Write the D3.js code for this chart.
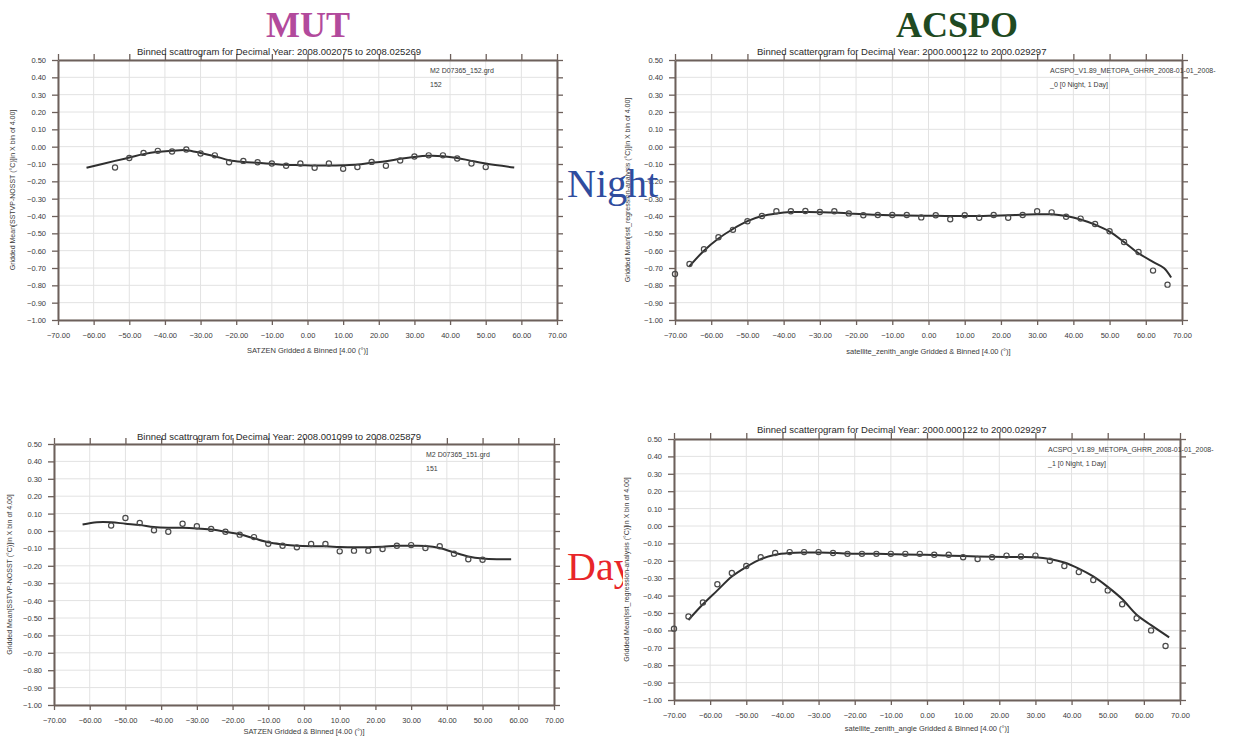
<!DOCTYPE html>
<html><head><meta charset="utf-8">
<script src="https://cdn.jsdelivr.net/npm/d3@7"></script>
<style>body{margin:0;background:#fff;}svg{display:block;}</style>
</head><body>
<svg id="c" width="1257" height="738"></svg>
<script>
// ---------- data ----------
const xTicks = [-70,-60,-50,-40,-30,-20,-10,0,10,20,30,40,50,60,70];
const yTicks = [0.5,0.4,0.3,0.2,0.1,0.0,-0.1,-0.2,-0.3,-0.4,-0.5,-0.6,-0.7,-0.8,-0.9,-1.0];

const mutNightX = [-54,-50,-46,-42,-38,-34,-30,-26,-22,-18,-14,-10,-6,-2,2,6,10,14,18,22,26,30,34,38,42,46,50];
const mutNightY = [-0.12,-0.065,-0.036,-0.024,-0.028,-0.016,-0.039,-0.05,-0.09,-0.082,-0.09,-0.097,-0.11,-0.097,-0.122,-0.097,-0.128,-0.118,-0.088,-0.11,-0.08,-0.057,-0.05,-0.05,-0.068,-0.097,-0.118];
const mutNightFitX = [-62,-54,-50,-46,-42,-38,-34,-30,-26,-22,-18,-14,-10,-6,-2,2,6,10,14,18,22,26,30,34,38,42,46,50,58];
const mutNightFitY = [-0.122,-0.082,-0.063,-0.043,-0.030,-0.024,-0.020,-0.036,-0.055,-0.078,-0.088,-0.093,-0.099,-0.105,-0.107,-0.109,-0.109,-0.107,-0.103,-0.093,-0.084,-0.070,-0.059,-0.053,-0.055,-0.065,-0.082,-0.097,-0.12];

const mutDayX = [-54,-50,-46,-42,-38,-34,-30,-26,-22,-18,-14,-10,-6,-2,2,6,10,14,18,22,26,30,34,38,42,46,50];
const mutDayY = [0.031,0.075,0.046,0.004,-0.004,0.042,0.027,0.012,-0.004,-0.021,-0.035,-0.073,-0.085,-0.094,-0.075,-0.075,-0.117,-0.113,-0.113,-0.104,-0.085,-0.081,-0.098,-0.088,-0.131,-0.162,-0.165];
const mutDayFitX = [-62,-58,-54,-50,-46,-42,-38,-34,-30,-26,-22,-18,-14,-10,-6,-2,2,6,10,14,18,22,26,30,34,38,42,46,50,54,58];
const mutDayFitY = [0.037,0.05,0.05,0.042,0.035,0.023,0.019,0.019,0.015,0.008,-0.004,-0.019,-0.042,-0.065,-0.077,-0.085,-0.088,-0.088,-0.092,-0.093,-0.093,-0.090,-0.085,-0.085,-0.086,-0.098,-0.123,-0.146,-0.158,-0.162,-0.162];

const acspoNightX = [-70,-66,-62,-58,-54,-50,-46,-42,-38,-34,-30,-26,-22,-18,-14,-10,-6,-2,2,6,10,14,18,22,26,30,34,38,42,46,50,54,58,62,66];
const acspoNightY = [-0.735,-0.677,-0.592,-0.523,-0.48,-0.43,-0.40,-0.373,-0.373,-0.371,-0.377,-0.373,-0.385,-0.396,-0.394,-0.394,-0.394,-0.408,-0.396,-0.419,-0.396,-0.41,-0.394,-0.41,-0.394,-0.373,-0.379,-0.404,-0.415,-0.446,-0.488,-0.55,-0.608,-0.715,-0.796];
const acspoNightFitX = [-66,-62,-58,-54,-50,-46,-42,-38,-34,-30,-26,-22,-18,-14,-10,-6,-2,2,6,10,14,18,22,26,30,34,38,42,46,50,54,58,62,65,67];
const acspoNightFitY = [-0.69,-0.60,-0.53,-0.475,-0.43,-0.40,-0.385,-0.377,-0.377,-0.378,-0.380,-0.385,-0.39,-0.393,-0.395,-0.397,-0.398,-0.399,-0.40,-0.40,-0.40,-0.398,-0.396,-0.393,-0.39,-0.39,-0.40,-0.42,-0.45,-0.49,-0.55,-0.615,-0.665,-0.70,-0.755];

const acspoDayX = [-70,-66,-62,-58,-54,-50,-46,-42,-38,-34,-30,-26,-22,-18,-14,-10,-6,-2,2,6,10,14,18,22,26,30,34,38,42,46,50,54,58,62,66];
const acspoDayY = [-0.59,-0.52,-0.44,-0.335,-0.27,-0.23,-0.18,-0.155,-0.15,-0.15,-0.15,-0.155,-0.16,-0.16,-0.16,-0.16,-0.16,-0.16,-0.165,-0.165,-0.18,-0.19,-0.18,-0.17,-0.175,-0.17,-0.2,-0.23,-0.265,-0.31,-0.37,-0.45,-0.53,-0.60,-0.69];
const acspoDayFitX = [-66,-62,-58,-54,-50,-46,-42,-38,-34,-30,-26,-22,-18,-14,-10,-6,-2,2,6,10,14,18,22,26,30,34,38,42,46,50,54,58,62,67];
const acspoDayFitY = [-0.54,-0.45,-0.37,-0.29,-0.235,-0.19,-0.165,-0.155,-0.152,-0.152,-0.155,-0.158,-0.16,-0.16,-0.162,-0.164,-0.165,-0.167,-0.17,-0.172,-0.175,-0.177,-0.178,-0.178,-0.18,-0.19,-0.21,-0.245,-0.29,-0.35,-0.42,-0.51,-0.57,-0.64];

// ---------- layout ----------
const svg = d3.select("#c");
const FONT = "Liberation Sans, Arial, sans-serif";
const AX = "#6d605b", GRID = "#e2e2e2", TXT = "#3a3a3a";

const panels = [
  {id:"tl", l:58, r:557, t:60, b:320, bg:null,
   title:"Binned scattrogram for Decimal Year: 2008.002075  to  2008.025269", tx:137, ty:55,
   ann1:"M2 D07365_152.grd", ann2:"152", ax:430,
   xTitle:"SATZEN Gridded & Binned [4.00 (°)]", xlY:340, xtY:353,
   yTitle:"Gridded Mean[SSTVP-NOSST (°C)]in X bin of 4.00]", ytX:13,
   px:mutNightX, py:mutNightY, fx:mutNightFitX, fy:mutNightFitY},
  {id:"tr", l:675, r:1182, t:60, b:320, bg:null,
   title:"Binned scatterogram for Decimal Year: 2000.000122  to  2000.029297", tx:757, ty:55,
   ann1:"ACSPO_V1.89_METOPA_GHRR_2008-01-01_2008-", ann2:"_0 [0 Night, 1 Day]", ax:1050,
   xTitle:"satellite_zenith_angle Gridded & Binned [4.00 (°)]", xlY:341, xtY:354,
   yTitle:"Gridded Mean[sst_regression-analysis (°C)]in X bin of 4.00]", ytX:628,
   px:acspoNightX, py:acspoNightY, fx:acspoNightFitX, fy:acspoNightFitY},
  {id:"bl", l:54, r:554, t:444, b:705, bg:null,
   title:"Binned scattrogram for Decimal Year: 2008.001099  to  2008.025879", tx:137, ty:440,
   ann1:"M2 D07365_151.grd", ann2:"151", ax:426,
   xTitle:"SATZEN Gridded & Binned [4.00 (°)]", xlY:722, xtY:734,
   yTitle:"Gridded Mean[SSTVP-NOSST (°C)]in X bin of 4.00]", ytX:10,
   px:mutDayX, py:mutDayY, fx:mutDayFitX, fy:mutDayFitY},
  {id:"br", l:674, r:1180, t:439, b:700, bg:[623,418,634,320],
   title:"Binned scatterogram for Decimal Year: 2000.000122  to  2000.029297", tx:757, ty:433,
   ann1:"ACSPO_V1.89_METOPA_GHRR_2008-01-01_2008-", ann2:"_1 [0 Night, 1 Day]", ax:1048,
   xTitle:"satellite_zenith_angle Gridded & Binned [4.00 (°)]", xlY:718, xtY:731,
   yTitle:"Gridded Mean[sst_regression-analysis (°C)]in X bin of 4.00]", ytX:627,
   px:acspoDayX, py:acspoDayY, fx:acspoDayFitX, fy:acspoDayFitY}
];

// group headers
svg.append("text").attr("x",308).attr("y",37).attr("text-anchor","middle")
  .attr("font-family","Liberation Serif, Times New Roman, serif").attr("font-weight","bold")
  .attr("font-size",36).attr("fill","#b24a9c").text("MUT");
svg.append("text").attr("x",957).attr("y",37).attr("text-anchor","middle")
  .attr("font-family","Liberation Serif, Times New Roman, serif").attr("font-weight","bold")
  .attr("font-size",36).attr("fill","#1f4a22").text("ACSPO");

// "Day" label lies beneath bottom-right panel
svg.append("text").attr("x",567).attr("y",580)
  .attr("font-family","Liberation Serif, Times New Roman, serif")
  .attr("font-size",40).attr("fill","#e8262a").text("Day");

function drawPanel(p){
  const g = svg.append("g");
  if (p.bg) g.append("rect").attr("x",p.bg[0]).attr("y",p.bg[1]).attr("width",p.bg[2]).attr("height",p.bg[3]).attr("fill","#fff");
  const x = d3.scaleLinear().domain([-70,70]).range([p.l,p.r]);
  const y = d3.scaleLinear().domain([-1,0.5]).range([p.b,p.t]);

  // grid
  g.append("g").selectAll("line").data(xTicks).join("line")
    .attr("x1",d=>x(d)).attr("x2",d=>x(d)).attr("y1",p.t).attr("y2",p.b)
    .attr("stroke",GRID).attr("stroke-width",1);
  g.append("g").selectAll("line").data(yTicks).join("line")
    .attr("y1",d=>y(d)).attr("y2",d=>y(d)).attr("x1",p.l).attr("x2",p.r)
    .attr("stroke",GRID).attr("stroke-width",1);

  // axes
  const fmt = d3.format(".2f");
  const styleAxis = s => {
    s.select(".domain").attr("stroke",AX).attr("stroke-width",2);
    s.selectAll(".tick line").attr("stroke",AX).attr("stroke-width",1.3);
    s.selectAll("text").attr("fill",TXT).attr("font-family",FONT).attr("font-size",7.5);
  };
  g.append("g").attr("transform",`translate(0,${p.b})`)
    .call(d3.axisBottom(x).tickValues(xTicks).tickFormat(fmt).tickSizeInner(5).tickSizeOuter(0).tickPadding(8))
    .call(styleAxis);
  g.append("g").attr("transform",`translate(0,${p.t})`)
    .call(d3.axisTop(x).tickValues(xTicks).tickFormat("").tickSizeInner(6).tickSizeOuter(0))
    .call(styleAxis);
  g.append("g").attr("transform",`translate(${p.l},0)`)
    .call(d3.axisLeft(y).tickValues(yTicks).tickFormat(fmt).tickSizeInner(6).tickSizeOuter(0).tickPadding(6))
    .call(styleAxis);
  g.append("g").attr("transform",`translate(${p.r},0)`)
    .call(d3.axisRight(y).tickValues(yTicks).tickFormat("").tickSizeInner(6).tickSizeOuter(0))
    .call(styleAxis);

  // titles
  g.append("text").attr("x",p.tx).attr("y",p.ty).attr("font-family",FONT).attr("font-size",9.5)
    .attr("fill","#2a2a2a").text(p.title);
  g.append("text").attr("x",(p.l+p.r)/2).attr("y",p.xtY).attr("text-anchor","middle")
    .attr("font-family",FONT).attr("font-size",7.5).attr("fill",TXT).text(p.xTitle);
  g.append("text").attr("transform",`translate(${p.ytX},${(p.t+p.b)/2}) rotate(-90)`)
    .attr("text-anchor","middle").attr("dominant-baseline","middle")
    .attr("font-family",FONT).attr("font-size",7).attr("fill",TXT).text(p.yTitle);
  g.append("text").attr("x",p.ax).attr("y",p.t+13).attr("font-family",FONT).attr("font-size",7)
    .attr("fill",TXT).text(p.ann1);
  g.append("text").attr("x",p.ax).attr("y",p.t+27).attr("font-family",FONT).attr("font-size",7)
    .attr("fill",TXT).text(p.ann2);

  // fit line
  const fit = p.fx.map((v,i)=>[v,p.fy[i]]);
  g.append("path").datum(fit)
    .attr("d", d3.line().x(d=>x(d[0])).y(d=>y(d[1])).curve(d3.curveCatmullRom.alpha(0.5)))
    .attr("fill","none").attr("stroke","#2f2f2f").attr("stroke-width",2);
  // points
  const pts = p.px.map((v,i)=>[v,p.py[i]]);
  g.append("g").selectAll("circle").data(pts).join("circle")
    .attr("cx",d=>x(d[0])).attr("cy",d=>y(d[1])).attr("r",2.6)
    .attr("fill","none").attr("stroke","#4a4a4a").attr("stroke-width",1.2);
}
panels.forEach(drawPanel);

// "Night" label drawn on top
svg.append("text").attr("x",567).attr("y",197)
  .attr("font-family","Liberation Serif, Times New Roman, serif")
  .attr("font-size",40).attr("fill","#2f4c9e").text("Night");
</script>
</body></html>
